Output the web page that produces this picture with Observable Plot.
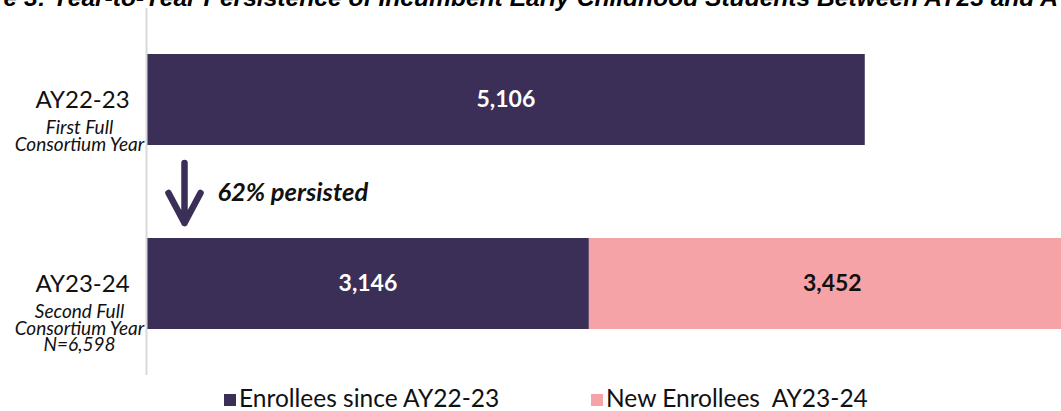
<!DOCTYPE html>
<html>
<head>
<meta charset="utf-8">
<script src="https://cdn.jsdelivr.net/npm/d3@7"></script>
<script src="https://cdn.jsdelivr.net/npm/@observablehq/plot@0.6"></script>
<style>
  html, body { margin: 0; padding: 0; background: #fff; }
  #wrap { position: relative; width: 1061px; height: 411px; overflow: hidden; font-family: Lato, "Noto Sans", sans-serif; }
  #title { position: absolute; top: -16px; left: -58px; white-space: nowrap; line-height: 27px; font-family: "Liberation Sans", Arial, sans-serif; font-weight: bold; font-style: italic; font-size: 24.6px; color: #000; }
  #chart { position: absolute; top: 0; left: 0; }
  #legend { position: absolute; top: 385px; left: 0; width: 1061px; height: 26px; }
  .item { position: absolute; top: 0; height: 26px; line-height: 26px; display: flex; align-items: center; white-space: pre; font-size: 24.5px; color: #111; }
  .sw { width: 12px; height: 12px; margin-right: 3px; margin-top: 3px; flex: none; }
</style>
</head>
<body>
<div id="wrap">
  <div id="title"></div>
  <div id="chart"></div>
  <div id="legend"></div>
</div>
<script>
const titleText = "Figure 3: Year-to-Year Persistence of Incumbent Early Childhood Students Between AY23 and AY24";
const years = ["AY22-23", "AY23-24"];
const yearNotes = ["First Full\nConsortium Year", "Second Full\nConsortium Year\nN=6,598"];
const series = ["Enrollees since AY22-23", "New Enrollees  AY23-24"];
const seriesColors = ["#3b2f57", "#f6a3a8"];
const barYear = ["AY22-23", "AY23-24", "AY23-24"];
const barSeries = [series[0], series[0], series[1]];
const barValues = [5106, 3146, 3452];
const persistence = [{year: "AY22-23", x: 270, labelX: 504, label: "62% persisted"}];
const xMax = 6500;

const data = barValues.map((v, i) => ({year: barYear[i], series: barSeries[i], value: v}));
const notes = years.map((y, i) => ({year: y, note: yearNotes[i]}));

document.getElementById("title").textContent = titleText;

const arrowShape = {
  draw(context, l) {
    const w = 16, h = 30;
    context.moveTo(0, 0);
    context.lineTo(0, -l);
    context.moveTo(-w, -l + h);
    context.lineTo(0, -l);
    context.lineTo(w, -l + h);
  }
};

const chart = Plot.plot({
  width: 1061,
  height: 385,
  marginLeft: 146,
  marginRight: 0,
  marginTop: 8,
  marginBottom: 10,
  style: {fontFamily: "Lato, 'Noto Sans', sans-serif", background: "transparent", overflow: "hidden"},
  x: {domain: [0, xMax], axis: null},
  y: {domain: years, axis: null, paddingInner: 0.503, paddingOuter: 0.2434},
  color: {domain: series, range: seriesColors},
  marks: [
    Plot.barX(data, Plot.stackX({x: "value", y: "year", fill: "series", clip: true})),
    Plot.text(data, Plot.stackX({
      x: "value", y: "year", text: d => d3.format(",")(d.value),
      fill: d => d.series === series[0] ? "#ffffff" : "#111111",
      fontSize: 23, fontWeight: "bold"
    })),
    Plot.ruleX([0], {stroke: "#d9d9d9", strokeWidth: 2}),
    Plot.text(years, {y: d => d, text: d => d, frameAnchor: "left", dx: -64, textAnchor: "middle", fontSize: 24, fill: "#111"}),
    Plot.text(notes, {y: "year", text: "note", frameAnchor: "left", dx: -67, dy: 22, textAnchor: "middle", lineAnchor: "top", lineHeight: 0.88, fontSize: 19, fontStyle: "italic", fill: "#111"}),
    Plot.vector(persistence, {x: "x", y: "year", dy: 63, length: 60, rotate: 180, anchor: "start", shape: arrowShape, stroke: seriesColors[0], strokeWidth: 6.5, strokeLinecap: "round", strokeLinejoin: "round"}),
    Plot.text(persistence, {x: "labelX", y: "year", dy: 93, text: "label", textAnchor: "start", fontSize: 25.5, fontWeight: "bold", fontStyle: "italic", fill: "#111"})
  ]
});
document.getElementById("chart").appendChild(chart);

const legend = document.getElementById("legend");
const legendLeft = [224, 591];
series.forEach((s, i) => {
  const item = document.createElement("div");
  item.className = "item";
  item.style.left = legendLeft[i] + "px";
  const sw = document.createElement("span");
  sw.className = "sw";
  sw.style.background = seriesColors[i];
  const label = document.createElement("span");
  label.textContent = s;
  item.appendChild(sw);
  item.appendChild(label);
  legend.appendChild(item);
});
</script>
</body>
</html>
